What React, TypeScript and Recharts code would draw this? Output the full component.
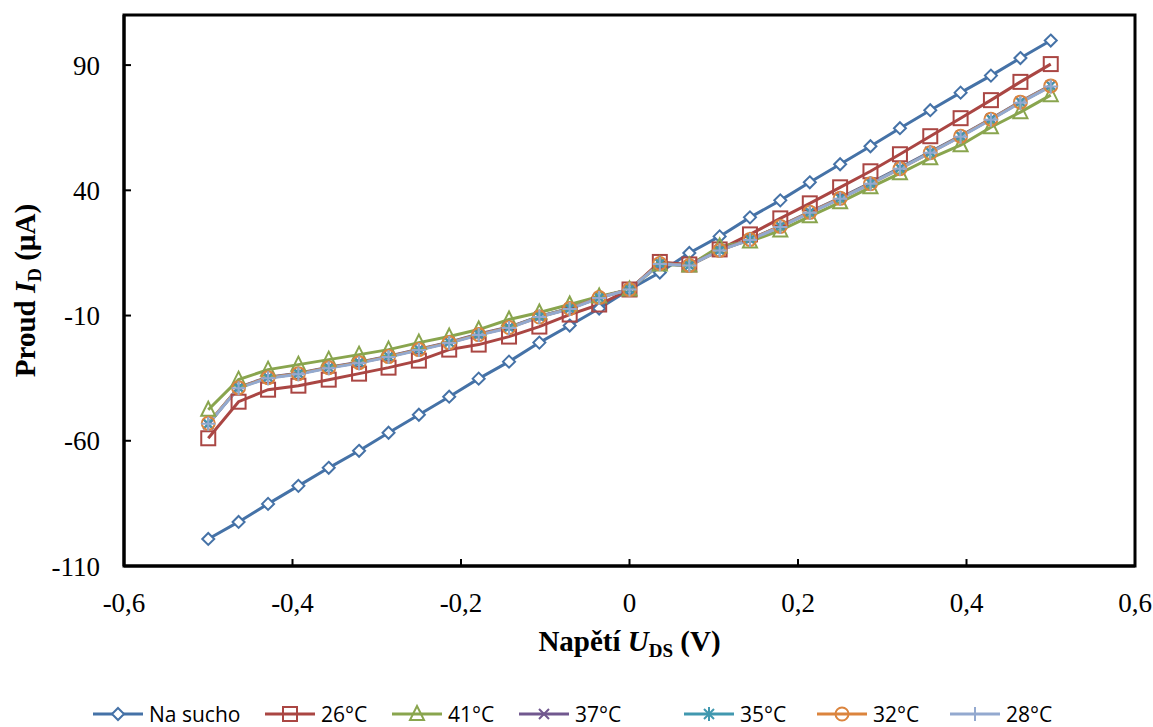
import React from 'react';
import { LineChart, Line, XAxis, YAxis, ReferenceArea } from 'recharts';

// napětí U_DS (V)
const napeti = [
  -0.5, -0.464, -0.429, -0.393, -0.357, -0.321, -0.286, -0.25, -0.214, -0.179,
  -0.143, -0.107, -0.071, -0.036, 0, 0.036, 0.071, 0.107, 0.143, 0.179,
  0.214, 0.25, 0.286, 0.321, 0.357, 0.393, 0.429, 0.464, 0.5,
];

// proud I_D (µA)
const naSucho = [
  -99.2, -92.4, -85.2, -78, -70.8, -64, -56.8, -49.6, -42.4, -35.2,
  -28.4, -20.8, -14, -7.2, 0.4, 7.2, 15, 21.6, 29.2, 36,
  43.2, 50.4, 57.6, 64.8, 72, 79, 85.8, 92.8, 99.8,
];
const t26 = [
  -59, -44.4, -39.6, -38, -35.6, -33.2, -30.8, -28, -23.6, -21.6,
  -18.4, -14.4, -9.6, -5.6, 0.4, 11.4, 10.4, 16.4, 22.4, 28.8,
  34.8, 41.2, 47.6, 54.4, 61.6, 68.8, 76, 83.3, 90.4,
];
const t41 = [
  -47.6, -35.6, -31.6, -29.6, -27.6, -25.6, -23.6, -20.8, -18.4, -15.6,
  -11.6, -8.8, -5.6, -2.4, 0.4, 10.4, 10, 17.6, 19.6, 24,
  29.6, 35.2, 41.2, 46.8, 52.8, 58, 65.2, 71.2, 78,
];
const t37 = [
  -53.4, -38.6, -34.6, -33, -30.6, -28.6, -26.2, -23.4, -20.6, -17.4,
  -14.6, -10.4, -7.2, -2.8, 0.4, 10.8, 10, 16.2, 20.4, 25.8,
  31.4, 37, 43, 49, 55.4, 61.8, 68.6, 75.4, 81.9,
];
const t35 = [
  -53.2, -38.8, -34.8, -33.2, -30.8, -28.8, -26.4, -23.6, -20.8, -17.6,
  -14.8, -10.4, -7.2, -2.8, 0.4, 10.8, 10, 16, 20.4, 25.6,
  31.2, 36.8, 42.8, 48.8, 55.2, 61.6, 68.4, 75.2, 81.7,
];
const t32 = [
  -53, -38.8, -34.8, -33.2, -30.8, -28.8, -26.4, -23.6, -20.8, -17.6,
  -14.8, -10.6, -7.2, -2.8, 0.4, 10.8, 10, 16, 20.4, 25.6,
  31.2, 36.8, 42.6, 48.6, 55, 61.6, 68.4, 75.2, 81.7,
];
const t28 = [
  -53.2, -39, -35, -33.4, -31, -29, -26.6, -23.8, -21, -17.8,
  -15, -10.6, -7.4, -3, 0.4, 10.6, 10, 16, 20.2, 25.4,
  31, 36.6, 42.6, 48.6, 55, 61.4, 68.2, 75, 81.5,
];

const xTicks = [-0.6, -0.4, -0.2, 0, 0.2, 0.4, 0.6];
const yTicks = [-110, -60, -10, 40, 90];

const series = [
  { key: 'naSucho', name: 'Na sucho', color: '#4572A7', shape: 'diamond', values: naSucho },
  { key: 't26', name: '26°C', color: '#AA4643', shape: 'square', values: t26 },
  { key: 't41', name: '41°C', color: '#89A54E', shape: 'triangle', values: t41 },
  { key: 't37', name: '37°C', color: '#71588F', shape: 'x', values: t37 },
  { key: 't35', name: '35°C', color: '#4198AF', shape: 'star', values: t35 },
  { key: 't32', name: '32°C', color: '#DB843D', shape: 'circle', values: t32 },
  { key: 't28', name: '28°C', color: '#93A9CF', shape: 'plus', values: t28 },
];

const data = napeti.map((u, i) => {
  const row: Record<string, number> = { u };
  series.forEach((s) => {
    row[s.key] = s.values[i];
  });
  return row;
});

const serif = '"Liberation Serif", "Times New Roman", serif';
const sans = '"Open Sans", "Noto Sans", sans-serif';

function Marker({ shape, cx, cy, color }: { shape: string; cx: number; cy: number; color: string }) {
  const sw = 2;
  switch (shape) {
    case 'diamond':
      return (
        <path
          d={`M${cx},${cy - 6}L${cx + 6},${cy}L${cx},${cy + 6}L${cx - 6},${cy}Z`}
          fill="#fff"
          stroke={color}
          strokeWidth={sw}
        />
      );
    case 'square':
      return <rect x={cx - 7} y={cy - 7} width={14} height={14} fill="none" stroke={color} strokeWidth={sw} />;
    case 'triangle':
      return (
        <path
          d={`M${cx},${cy - 8}L${cx + 7},${cy + 6}L${cx - 7},${cy + 6}Z`}
          fill="none"
          stroke={color}
          strokeWidth={sw}
        />
      );
    case 'x':
      return (
        <path
          d={`M${cx - 5},${cy - 5}L${cx + 5},${cy + 5}M${cx - 5},${cy + 5}L${cx + 5},${cy - 5}`}
          stroke={color}
          strokeWidth={sw}
        />
      );
    case 'star':
      return (
        <path
          d={`M${cx - 5},${cy - 5}L${cx + 5},${cy + 5}M${cx - 5},${cy + 5}L${cx + 5},${cy - 5}M${cx},${cy - 7}L${cx},${cy + 7}`}
          stroke={color}
          strokeWidth={sw}
        />
      );
    case 'circle':
      return <circle cx={cx} cy={cy} r={6.5} fill="none" stroke={color} strokeWidth={sw} />;
    case 'plus':
      return (
        <path
          d={`M${cx - 7},${cy}L${cx + 7},${cy}M${cx},${cy - 7}L${cx},${cy + 7}`}
          stroke={color}
          strokeWidth={sw}
        />
      );
    default:
      return null;
  }
}

const XTitle = (props: any) => {
  const vb = props.viewBox;
  const cx = vb.x + vb.width / 2;
  const y = vb.y + 85;
  return (
    <text x={cx} y={y} textAnchor="middle" fontFamily={serif} fontSize={29} fontWeight="bold" fill="#000">
      Napětí <tspan fontStyle="italic">U</tspan>
      <tspan fontSize={19} dy={6}>DS</tspan>
      <tspan dy={-6}> (V)</tspan>
    </text>
  );
};

const YTitle = (props: any) => {
  const vb = props.viewBox;
  const x = 35;
  const y = vb.y + vb.height / 2;
  return (
    <text
      x={x}
      y={y}
      transform={`rotate(-90, ${x}, ${y})`}
      textAnchor="middle"
      fontFamily={serif}
      fontSize={29}
      fontWeight="bold"
      fill="#000"
    >
      Proud <tspan fontStyle="italic">I</tspan>
      <tspan fontSize={19} dy={6}>D</tspan>
      <tspan dy={-6}> (µA)</tspan>
    </text>
  );
};

const legendLeft = [93, 265, 392, 519, 684, 817, 950];

export default function App() {
  return (
    <div style={{ position: 'absolute', left: 0, top: 0, width: 1153, height: 727, background: '#fff' }}>
      <LineChart width={1153} height={727} data={data} margin={{ top: 15, right: 18, left: 0, bottom: 0 }}>
        <XAxis
          dataKey="u"
          type="number"
          domain={[-0.6, 0.6]}
          ticks={xTicks}
          interval={0}
          height={161}
          tickSize={-7}
          tickMargin={34}
          tickFormatter={(v: number) => String(v).replace('.', ',')}
          axisLine={{ stroke: '#000', strokeWidth: 3 }}
          tickLine={{ stroke: '#000', strokeWidth: 2 }}
          tick={{ fill: '#000', fontSize: 27, fontFamily: serif }}
          label={{ content: XTitle }}
        />
        <YAxis
          type="number"
          domain={[-110, 110]}
          ticks={yTicks}
          interval={0}
          width={124}
          tickSize={-7}
          tickMargin={31}
          axisLine={{ stroke: '#000', strokeWidth: 3 }}
          tickLine={{ stroke: '#000', strokeWidth: 2 }}
          tick={{ fill: '#000', fontSize: 27, fontFamily: serif }}
          label={{ content: YTitle }}
        />
        <ReferenceArea x1={-0.6} x2={0.6} y1={-110} y2={110} fill="none" stroke="#000" strokeWidth={3} />
        {series.map((s) => (
          <Line
            key={s.key}
            dataKey={s.key}
            name={s.name}
            stroke={s.color}
            strokeWidth={3}
            isAnimationActive={false}
            dot={(p: any) => <Marker key={`${s.key}-${p.index}`} shape={s.shape} cx={p.cx} cy={p.cy} color={s.color} />}
            activeDot={false}
          />
        ))}
      </LineChart>
      {series.map((s, i) => (
        <div
          key={s.key}
          style={{
            position: 'absolute',
            left: legendLeft[i],
            top: 700,
            height: 28,
            display: 'flex',
            alignItems: 'center',
            fontFamily: sans,
            fontSize: 21,
            color: '#000',
          }}
        >
          <svg width={50} height={28} style={{ marginRight: 6 }}>
            <line x1={0} y1={14} x2={50} y2={14} stroke={s.color} strokeWidth={3} />
            <Marker shape={s.shape} cx={25} cy={14} color={s.color} />
          </svg>
          <span>{s.name}</span>
        </div>
      ))}
    </div>
  );
}
